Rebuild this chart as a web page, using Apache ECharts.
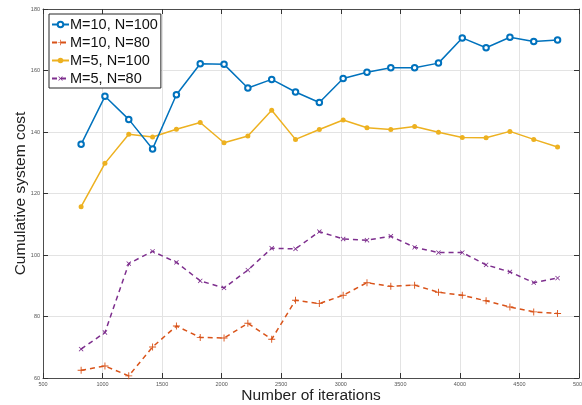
<!DOCTYPE html>
<html><head><meta charset="utf-8">
<script src="https://cdn.jsdelivr.net/npm/echarts@6/dist/echarts.min.js"></script>
<style>html,body{margin:0;padding:0;background:#fff}#c{width:582px;height:405px}</style>
</head><body><div id="c"></div>
<script>
const iterations = [820,1020,1220,1420,1620,1820,2020,2220,2420,2620,2820,3020,3220,3420,3620,3820,4020,4220,4420,4620,4820];
const m10n100 = [136.0,151.6,144.1,134.5,152.1,162.2,162.0,154.3,157.1,153.0,149.6,157.4,159.4,160.9,160.9,162.4,170.6,167.4,170.8,169.4,169.9];
const m10n80  = [62.5,63.9,60.7,70.1,76.9,73.2,73.0,77.8,72.6,85.3,84.2,86.9,91.0,89.8,90.2,87.9,86.9,85.1,83.1,81.5,81.0];
const m5n100  = [115.7,129.8,139.3,138.4,140.9,143.1,136.5,138.7,147.1,137.6,140.8,143.9,141.4,140.8,141.8,139.9,138.2,138.1,140.2,137.6,135.1];
const m5n80   = [69.4,74.8,97.2,101.2,97.6,91.6,89.3,95.1,102.2,102.0,107.6,105.2,104.8,106.1,102.5,100.8,100.8,96.8,94.5,91.0,92.5];
const seriesNames = ['M=10, N=100','M=10, N=80','M=5, N=100','M=5, N=80'];
const xTicks = {min:500,max:5000,interval:500};
const yTicks = {min:60,max:180,interval:20};

const pair = arr => arr.map((v,i)=>[iterations[i],v]);
const plus = 'path://M-0.65,-5H0.65V-0.65H5V0.65H0.65V5H-0.65V0.65H-5V-0.65H-0.65Z';
const font = 'Liberation Sans, Arial, sans-serif';
const chart = echarts.init(document.getElementById('c'), null, {renderer:'canvas'});
const axisCommon = {
  axisLine:{show:true,onZero:false,lineStyle:{color:'#4d4d4d',width:1}},
  axisTick:{show:true,inside:true,length:5,lineStyle:{color:'#333'}},
};
const plain = v => String(v);
chart.setOption({
  animation:false,
  backgroundColor:'#fff',
  grid:{left:43,right:3,top:9,bottom:27,containLabel:false,outerBoundsMode:'none'},
  legend:{
    show:true,orient:'vertical',left:49,top:14,
    padding:[3,3,2,2],itemGap:3,
    itemWidth:17,itemHeight:7,
    backgroundColor:'#fff',borderColor:'#262626',borderWidth:1,
    textStyle:{fontFamily:font,fontSize:14.5,color:'#111',padding:[0,0,0,-4]},
    data:seriesNames
  },
  xAxis:[
    Object.assign({type:'value',min:xTicks.min,max:xTicks.max,interval:xTicks.interval,
      name:'Number of iterations',nameLocation:'middle',nameGap:10,nameMoveOverlap:false,
      nameTextStyle:{fontFamily:font,fontSize:15.5,color:'#222'},
      axisLabel:{fontSize:5.5,color:'#555',margin:3,fontFamily:font,formatter:plain},
      splitLine:{show:true,lineStyle:{color:'#e3e3e3',width:1}}},axisCommon),
    Object.assign({type:'value',position:'top',min:xTicks.min,max:xTicks.max,interval:xTicks.interval,
      axisLabel:{show:false},splitLine:{show:false}},axisCommon)
  ],
  yAxis:[
    Object.assign({type:'value',min:yTicks.min,max:yTicks.max,interval:yTicks.interval,
      name:'Cumulative system cost',nameLocation:'middle',nameGap:14,nameMoveOverlap:false,
      nameTextStyle:{fontFamily:font,fontSize:15.5,color:'#222'},
      axisLabel:{fontSize:5.5,color:'#555',margin:3,fontFamily:font,formatter:plain},
      splitLine:{show:true,lineStyle:{color:'#e3e3e3',width:1}}},axisCommon),
    Object.assign({type:'value',position:'right',min:yTicks.min,max:yTicks.max,interval:yTicks.interval,
      axisLabel:{show:false},splitLine:{show:false}},axisCommon)
  ],
  series:[
    {name:seriesNames[0],type:'line',data:pair(m10n100),color:'#0072BD',
      symbol:'emptyCircle',symbolSize:5.5,showAllSymbol:true,
      lineStyle:{width:1.5,color:'#0072BD'},itemStyle:{color:'#0072BD',borderWidth:1.2},z:4},
    {name:seriesNames[1],type:'line',data:pair(m10n80),color:'#D95319',
      symbol:plus,symbolSize:7,showAllSymbol:true,
      lineStyle:{width:1.5,type:[5,4],color:'#D95319'},itemStyle:{color:'#D95319'},z:3},
    {name:seriesNames[2],type:'line',data:pair(m5n100),color:'#EDB120',
      symbol:'circle',symbolSize:5,showAllSymbol:true,
      lineStyle:{width:1.5,color:'#EDB120'},itemStyle:{color:'#EDB120'},z:3},
    {name:seriesNames[3],type:'line',data:pair(m5n80),color:'#7E2F8E',
      symbol:plus,symbolRotate:45,symbolSize:6,showAllSymbol:true,
      lineStyle:{width:1.5,type:[5,4],color:'#7E2F8E'},itemStyle:{color:'#7E2F8E'},z:3}
  ]
});
</script></body></html>
